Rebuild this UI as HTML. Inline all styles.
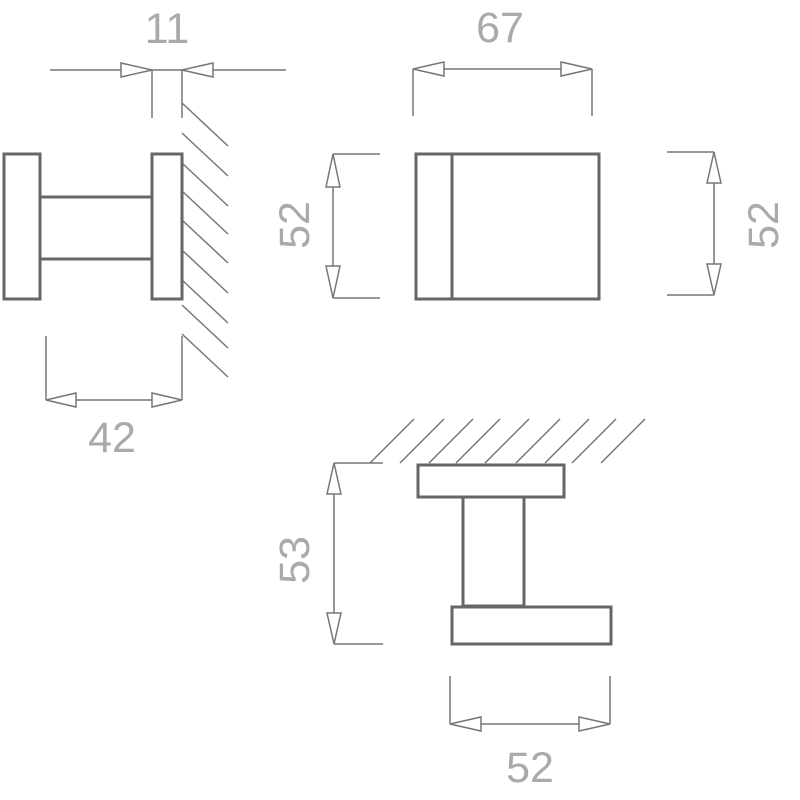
<!DOCTYPE html>
<html><head><meta charset="utf-8"><style>html,body{margin:0;padding:0;background:#fff}svg{display:block}</style></head>
<body>
<svg width="800" height="800" viewBox="0 0 800 800" xmlns="http://www.w3.org/2000/svg">
<g fill="none" stroke="#777" stroke-width="1.5">
<line x1="50" y1="70" x2="286" y2="70"/>
<line x1="152" y1="70" x2="152" y2="118"/>
<line x1="182" y1="70" x2="182" y2="118"/>
<polygon points="152,70 121,63 121,77" fill="#fff"/>
<polygon points="182,70 213,63 213,77" fill="#fff"/>
<line x1="182" y1="103" x2="228" y2="146"/>
<line x1="182" y1="133" x2="228" y2="176"/>
<line x1="182" y1="163" x2="228" y2="206"/>
<line x1="182" y1="191" x2="228" y2="234"/>
<line x1="182" y1="220" x2="228" y2="263"/>
<line x1="182" y1="250" x2="228" y2="293"/>
<line x1="182" y1="280" x2="228" y2="323"/>
<line x1="182" y1="305" x2="228" y2="348"/>
<line x1="182" y1="334" x2="228" y2="377"/>
<line x1="182" y1="336" x2="182" y2="400"/>
<line x1="46" y1="336" x2="46" y2="400"/>
<line x1="46" y1="400" x2="182" y2="400"/>
<polygon points="46,400 76,393 76,407" fill="#fff"/>
<polygon points="182,400 152,393 152,407" fill="#fff"/>
<line x1="413" y1="69" x2="592" y2="69"/>
<line x1="413" y1="69" x2="413" y2="116"/>
<line x1="592" y1="69" x2="592" y2="116"/>
<polygon points="413,69 444,62 444,76" fill="#fff"/>
<polygon points="592,69 561,62 561,76" fill="#fff"/>
<line x1="333" y1="154" x2="380" y2="154"/>
<line x1="333" y1="298" x2="380" y2="298"/>
<line x1="333" y1="154" x2="333" y2="298"/>
<polygon points="333,154 326,187 340,187" fill="#fff"/>
<polygon points="333,298 326,266 340,266" fill="#fff"/>
<line x1="667" y1="152" x2="714" y2="152"/>
<line x1="667" y1="295" x2="714" y2="295"/>
<line x1="714" y1="152" x2="714" y2="295"/>
<polygon points="714,152 707,183 721,183" fill="#fff"/>
<polygon points="714,295 707,264 721,264" fill="#fff"/>
<line x1="370" y1="463" x2="414" y2="419"/>
<line x1="400" y1="463" x2="444" y2="419"/>
<line x1="429" y1="463" x2="473" y2="419"/>
<line x1="456" y1="463" x2="500" y2="419"/>
<line x1="485" y1="463" x2="529" y2="419"/>
<line x1="516" y1="463" x2="560" y2="419"/>
<line x1="545" y1="463" x2="589" y2="419"/>
<line x1="572" y1="463" x2="616" y2="419"/>
<line x1="601" y1="463" x2="645" y2="419"/>
<line x1="334" y1="463" x2="383" y2="463"/>
<line x1="334" y1="644" x2="383" y2="644"/>
<line x1="334" y1="463" x2="334" y2="644"/>
<polygon points="334,463 327,494 341,494" fill="#fff"/>
<polygon points="334,644 327,613 341,613" fill="#fff"/>
<line x1="450" y1="676" x2="450" y2="724"/>
<line x1="610" y1="676" x2="610" y2="724"/>
<line x1="450" y1="724" x2="610" y2="724"/>
<polygon points="450,724 481,717 481,731" fill="#fff"/>
<polygon points="610,724 579,717 579,731" fill="#fff"/>
</g>
<g fill="#fff" stroke="#666" stroke-width="3">
<rect x="4" y="154" width="36" height="145"/>
<line x1="40" y1="197" x2="152" y2="197"/>
<line x1="40" y1="259" x2="152" y2="259"/>
<rect x="152" y="154" width="30" height="145"/>
<rect x="416" y="154" width="183" height="145"/>
<line x1="452" y1="154" x2="452" y2="299"/>
<rect x="463" y="497" width="61" height="109"/>
<rect x="418" y="465" width="146" height="32"/>
<rect x="452" y="607" width="159" height="37"/>
</g>
<g fill="#aaa" font-family="Liberation Sans, sans-serif" font-size="43" text-anchor="middle">
<text x="167" y="43">11</text>
<text x="112" y="452">42</text>
<text x="500" y="42">67</text>
<text x="530" y="782">52</text>
<text transform="translate(309,225) rotate(-90)">52</text>
<text transform="translate(778,225) rotate(-90)">52</text>
<text transform="translate(309,560) rotate(-90)">53</text>
</g>
</svg>
</body></html>
